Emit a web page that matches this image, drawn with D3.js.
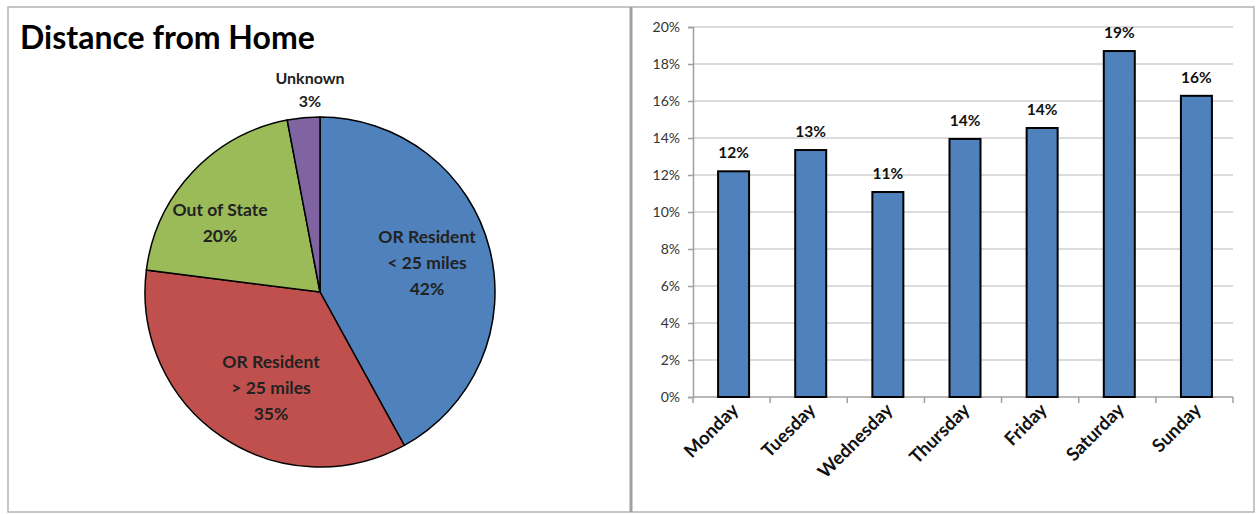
<!DOCTYPE html>
<html><head><meta charset="utf-8">
<script src="https://cdn.jsdelivr.net/npm/d3@7"></script>
<style>
html,body{margin:0;padding:0;background:#fff;}
svg{display:block;font-family:Lato,"Open Sans",sans-serif;}
</style></head>
<body>
<svg id="c" width="1256" height="514"></svg>
<script>
// Pie data
const pieLabels = [["OR Resident","< 25 miles"],["OR Resident","> 25 miles"],["Out of State"],["Unknown"]];
const pieValues = [42, 35, 20, 3];
const pieColors = ["#4f81bd","#c0504d","#9bbb59","#8064a2"];
// Bar data
const days = ["Monday","Tuesday","Wednesday","Thursday","Friday","Saturday","Sunday"];
const dayShares = [0.122, 0.1335, 0.1108, 0.1395, 0.1454, 0.187, 0.1628];
const dayLabels = ["12%","13%","11%","14%","14%","19%","16%"];
const yTicks = [0,0.02,0.04,0.06,0.08,0.10,0.12,0.14,0.16,0.18,0.20];

const svg = d3.select("#c");

// panel frames
svg.append("rect").attr("x",8).attr("y",7).attr("width",1246).attr("height",505)
  .attr("fill","none").attr("stroke","#b4b4b4").attr("stroke-width",1.5);
svg.append("line").attr("x1",631).attr("x2",631).attr("y1",7).attr("y2",512)
  .attr("stroke","#a0a0a0").attr("stroke-width",3);

// Title
svg.append("text").attr("x",20).attr("y",49).text("Distance from Home")
  .attr("font-size",32).attr("font-weight","bold").attr("fill","#000");

// Pie
const cx = 320, cy = 292, r = 175;
const pie = d3.pie().sort(null).value(d=>d)(pieValues);
const arc = d3.arc().innerRadius(0).outerRadius(r);
const pg = svg.append("g").attr("transform",`translate(${cx},${cy})`);
pg.selectAll("path").data(pie).join("path")
  .attr("d",arc).attr("fill",(d,i)=>pieColors[i])
  .attr("stroke","#000").attr("stroke-width",1.5);

const labelPos = [[107,-49],[-49,76],[-100,-76],[-10,-208]];
pie.forEach((d,i)=>{
  const lines = pieLabels[i].concat([Math.round(pieValues[i])+"%"]);
  const t = pg.append("text").attr("text-anchor","middle")
    .attr("font-size",i===3?16:17.5).attr("fill","#222").attr("font-weight","bold");
  const step = i===3 ? 23 : 26;
  lines.forEach((ln,j)=>{
    t.append("tspan").attr("x",labelPos[i][0]).attr("y",labelPos[i][1]+j*step).text(ln);
  });
});

// Bar chart
const y = d3.scaleLinear().domain([0,0.20]).range([397,27]);
const band = d3.scaleBand().domain(days).range([693,1233]);

// gridlines
svg.append("g").selectAll("line").data(yTicks.slice(1)).join("line")
  .attr("x1",693).attr("x2",1233).attr("y1",d=>y(d)).attr("y2",d=>y(d))
  .attr("stroke","#d0d0d0").attr("stroke-width",1.5);

// y axis
const yAxis = d3.axisLeft(y).tickValues(yTicks).tickFormat(d3.format(".0%")).tickSize(5).tickPadding(8);
const yg = svg.append("g").attr("transform","translate(693,0)").call(yAxis);
yg.select(".domain").attr("stroke","#a0a0a0").attr("stroke-width",1.5);
yg.selectAll(".tick line").attr("stroke","#a0a0a0").attr("stroke-width",1.5);
yg.selectAll(".tick text").attr("font-size",14).attr("fill","#333").attr("font-family","Lato,sans-serif");

// x axis
const bw = band.step();
const xg = svg.append("g");
xg.append("line").attr("x1",693).attr("x2",1233).attr("y1",397).attr("y2",397)
  .attr("stroke","#a0a0a0").attr("stroke-width",1.5);
xg.selectAll("line.t").data(d3.range(days.length+1)).join("line").attr("class","t")
  .attr("x1",i=>693+i*bw).attr("x2",i=>693+i*bw).attr("y1",397).attr("y2",403)
  .attr("stroke","#a0a0a0").attr("stroke-width",1.5);

xg.selectAll("text").data(days).join("text")
  .attr("transform",d=>`translate(${band(d)+band.bandwidth()/2+8},${411}) rotate(-45)`)
  .attr("text-anchor","end").attr("font-size",18.5).attr("font-weight","bold")
  .attr("fill","#111").text(d=>d);

// bars
const bwid = 31;
svg.append("g").selectAll("rect").data(days).join("rect")
  .attr("x",d=>band(d)+band.bandwidth()/2-bwid/2+2)
  .attr("y",(d,i)=>y(dayShares[i]))
  .attr("width",bwid)
  .attr("height",(d,i)=>y(0)-y(dayShares[i]))
  .attr("fill","#4f81bd").attr("stroke","#000").attr("stroke-width",2);

svg.append("g").selectAll("text").data(days).join("text")
  .attr("x",d=>band(d)+band.bandwidth()/2+2)
  .attr("y",(d,i)=>y(dayShares[i])-13)
  .attr("text-anchor","middle").attr("font-size",15.5).attr("font-weight","bold")
  .attr("fill","#111").text((d,i)=>dayLabels[i]);
</script>
</body></html>
